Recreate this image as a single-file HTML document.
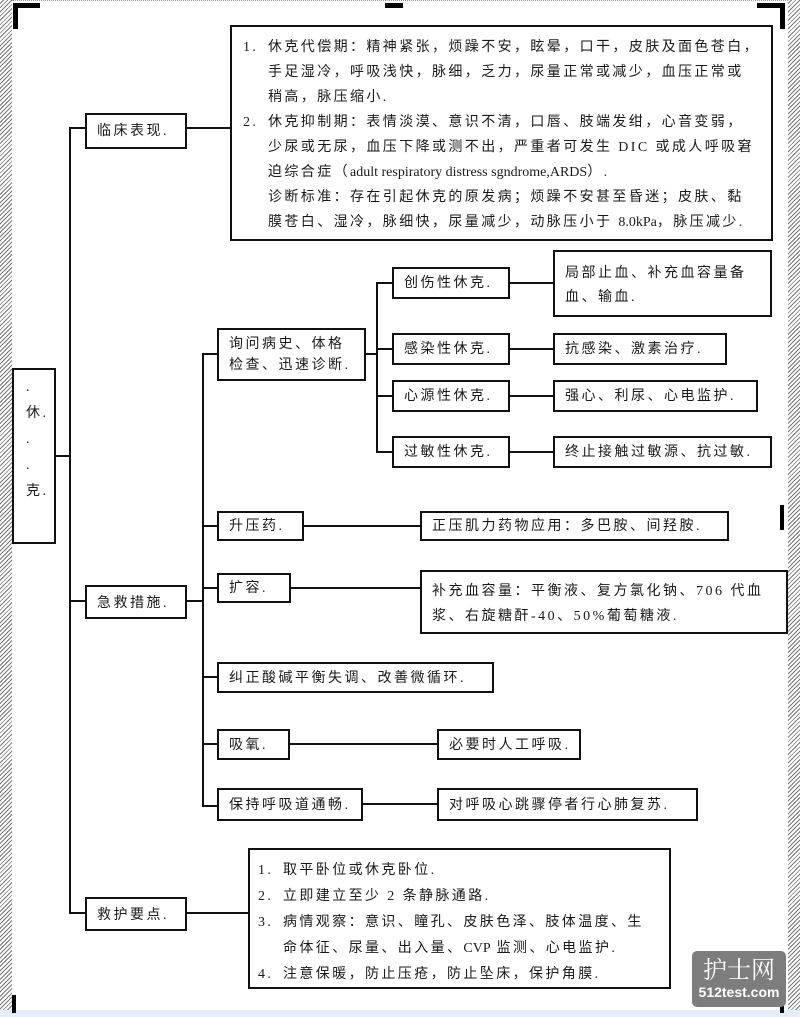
<!DOCTYPE html>
<html><head><meta charset="utf-8"><style>
body{margin:0;width:800px;height:1017px;position:relative;background:#fff;overflow:hidden;font-family:"Liberation Serif","Noto Sans CJK SC",sans-serif;color:#1a1a1a;}
.b{position:absolute;border:2px solid #111;box-sizing:border-box;font-size:14px;letter-spacing:2.5px;line-height:21px;padding:6px 0 0 10px;white-space:nowrap;background:#fff}
.h{position:absolute;height:2px;background:#111}
.v{position:absolute;width:2px;background:#111}
.hatch{position:absolute;top:0;bottom:7px;width:12px;background:repeating-linear-gradient(135deg,#fff 0 2px,#777 2px 3px)}
.c{position:absolute;background:#000}
.t{position:absolute;font-size:14px;letter-spacing:2.4px;line-height:25px;white-space:nowrap}
</style></head><body>
<div class="hatch" style="left:0"></div>
<div class="hatch" style="left:788px"></div>
<div style="position:absolute;left:0;right:0;bottom:0;height:7px;background:#e4eefa"></div>
<div style="position:absolute;left:12px;right:12px;top:0;border-top:1px dotted #999"></div>
<div class="c" style="left:13px;top:3px;width:27px;height:5px"></div>
<div class="c" style="left:13px;top:3px;width:5px;height:26px"></div>
<div class="c" style="left:385px;top:3px;width:18px;height:5px"></div>
<div class="c" style="left:757px;top:3px;width:27px;height:5px"></div>
<div class="c" style="left:780px;top:3px;width:5px;height:26px"></div>
<div class="c" style="left:13px;top:500px;width:4px;height:25px"></div>
<div class="c" style="left:780px;top:505px;width:4px;height:25px"></div>
<div class="c" style="left:12px;top:995px;width:4px;height:18px"></div>
<div class="c" style="left:780px;top:995px;width:4px;height:18px"></div>

<div class="b" style="left:12px;top:368px;width:44px;height:176px;padding:5px 0 0 12px;line-height:26px">.<br>休.<br>.<br>.<br>克.</div>
<div class="h" style="left:56px;top:455px;width:15px"></div>
<div class="v" style="left:69px;top:127px;height:787px"></div>

<div class="h" style="left:69px;top:127px;width:16px"></div>
<div class="b" style="left:85px;top:113px;width:102px;height:36px">临床表现.</div>
<div class="h" style="left:187px;top:127px;width:43px"></div>
<div class="b" style="left:230px;top:25px;width:543px;height:216px;padding:0"></div>
<div class="t" style="left:243px;top:35px">1.</div>
<div class="t" style="left:268px;top:35px">休克代偿期：精神紧张，烦躁不安，眩晕，口干，皮肤及面色苍白，<br>手足湿冷，呼吸浅快，脉细，乏力，尿量正常或减少，血压正常或<br>稍高，脉压缩小.</div>
<div class="t" style="left:243px;top:110px">2.</div>
<div class="t" style="left:268px;top:110px">休克抑制期：表情淡漠、意识不清，口唇、肢端发绀，心音变弱，<br>少尿或无尿，血压下降或测不出，严重者可发生 DIC 或成人呼吸窘<br>迫综合症（<span style="letter-spacing:0">adult respiratory distress sgndrome,ARDS</span>）.<br>诊断标准：存在引起休克的原发病；烦躁不安甚至昏迷；皮肤、黏<br>膜苍白、湿冷，脉细快，尿量减少，动脉压小于 <span style="letter-spacing:0">8.0kPa</span>，脉压减少.</div>

<div class="h" style="left:69px;top:600px;width:16px"></div>
<div class="b" style="left:85px;top:585px;width:102px;height:34px">急救措施.</div>
<div class="h" style="left:187px;top:600px;width:17px"></div>
<div class="v" style="left:202px;top:353px;height:454px"></div>

<div class="h" style="left:202px;top:353px;width:15px"></div>
<div class="b" style="left:217px;top:328px;width:149px;height:53px;padding-top:4px">询问病史、体格<br>检查、迅速诊断.</div>
<div class="h" style="left:366px;top:353px;width:12px"></div>
<div class="v" style="left:376px;top:282px;height:170px"></div>

<div class="h" style="left:376px;top:282px;width:16px"></div>
<div class="b" style="left:392px;top:267px;width:118px;height:32px;padding-top:4px">创伤性休克.</div>
<div class="h" style="left:510px;top:282px;width:43px"></div>
<div class="b" style="left:553px;top:250px;width:219px;height:67px;padding-top:10px;line-height:24px">局部止血、补充血容量备<br>血、输血.</div>

<div class="h" style="left:376px;top:348px;width:16px"></div>
<div class="b" style="left:392px;top:333px;width:118px;height:32px;padding-top:4px">感染性休克.</div>
<div class="h" style="left:510px;top:348px;width:43px"></div>
<div class="b" style="left:553px;top:333px;width:174px;height:32px;padding-top:4px">抗感染、激素治疗.</div>

<div class="h" style="left:376px;top:395px;width:16px"></div>
<div class="b" style="left:392px;top:380px;width:118px;height:32px;padding-top:4px">心源性休克.</div>
<div class="h" style="left:510px;top:395px;width:43px"></div>
<div class="b" style="left:553px;top:380px;width:205px;height:32px;padding-top:4px">强心、利尿、心电监护.</div>

<div class="h" style="left:376px;top:451px;width:16px"></div>
<div class="b" style="left:392px;top:436px;width:118px;height:32px;padding-top:4px">过敏性休克.</div>
<div class="h" style="left:510px;top:451px;width:43px"></div>
<div class="b" style="left:553px;top:436px;width:219px;height:32px;padding-top:4px">终止接触过敏源、抗过敏.</div>

<div class="h" style="left:202px;top:525px;width:15px"></div>
<div class="b" style="left:217px;top:511px;width:87px;height:30px;padding-top:3px">升压药.</div>
<div class="h" style="left:304px;top:525px;width:116px"></div>
<div class="b" style="left:420px;top:511px;width:309px;height:30px;padding-top:3px">正压肌力药物应用：多巴胺、间羟胺.</div>

<div class="h" style="left:202px;top:587px;width:15px"></div>
<div class="b" style="left:217px;top:573px;width:74px;height:30px;padding-top:3px">扩容.</div>
<div class="h" style="left:291px;top:587px;width:129px"></div>
<div class="b" style="left:420px;top:570px;width:368px;height:64px;padding-top:7px;line-height:25px">补充血容量：平衡液、复方氯化钠、706 代血<br>浆、右旋糖酐-40、50%葡萄糖液.</div>

<div class="h" style="left:202px;top:676px;width:15px"></div>
<div class="b" style="left:217px;top:662px;width:277px;height:31px;padding-top:4px">纠正酸碱平衡失调、改善微循环.</div>

<div class="h" style="left:202px;top:743px;width:15px"></div>
<div class="b" style="left:217px;top:729px;width:73px;height:31px;padding-top:4px">吸氧.</div>
<div class="h" style="left:290px;top:743px;width:147px"></div>
<div class="b" style="left:437px;top:729px;width:144px;height:31px;padding-top:4px">必要时人工呼吸.</div>

<div class="h" style="left:202px;top:805px;width:15px"></div>
<div class="b" style="left:217px;top:788px;width:146px;height:33px;padding-top:5px">保持呼吸道通畅.</div>
<div class="h" style="left:363px;top:803px;width:74px"></div>
<div class="b" style="left:437px;top:788px;width:261px;height:33px;padding-top:5px">对呼吸心跳骤停者行心肺复苏.</div>

<div class="h" style="left:69px;top:912px;width:16px"></div>
<div class="b" style="left:85px;top:897px;width:102px;height:34px">救护要点.</div>
<div class="h" style="left:187px;top:912px;width:61px"></div>
<div class="b" style="left:248px;top:848px;width:423px;height:141px;padding:0"></div>
<div class="t" style="left:258px;top:858px;line-height:26px">1.<br>2.<br>3.<br><br>4.</div>
<div class="t" style="left:283px;top:858px;line-height:26px">取平卧位或休克卧位.<br>立即建立至少 2 条静脉通路.<br>病情观察：意识、瞳孔、皮肤色泽、肢体温度、生<br>命体征、尿量、出入量、<span style="letter-spacing:0">CVP</span> 监测、心电监护.<br>注意保暖，防止压疮，防止坠床，保护角膜.</div>

<div style="position:absolute;left:692px;top:951px;width:94px;height:56px;background:#7d7d7d;border-radius:5px;color:#fff;text-align:center;font-family:'Noto Serif CJK SC',serif">
<div style="font-size:24px;line-height:30px;margin-top:2px">护士网</div>
<div style="font-family:'Liberation Sans',sans-serif;font-weight:bold;font-size:14px;line-height:18px">512test.com</div></div>
</body></html>
